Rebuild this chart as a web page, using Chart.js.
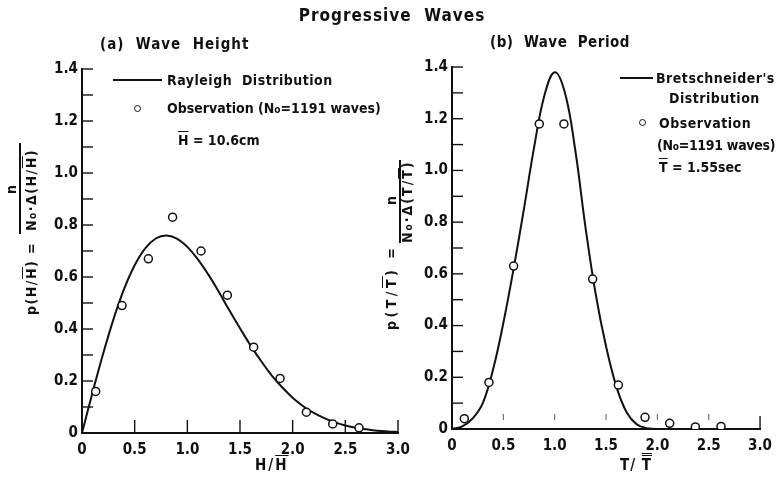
<!DOCTYPE html>
<html>
<head>
<meta charset="utf-8">
<script src="https://cdn.jsdelivr.net/npm/chart.js"></script>
<style>
  html, body { margin: 0; padding: 0; background: #fff; }
  #wrap { position: relative; width: 780px; height: 478px; overflow: hidden; font-family: 'DejaVu Sans Condensed', 'DejaVu Sans', sans-serif; font-weight: bold; color: #111; }
  canvas { position: absolute; left: 0; top: 0; }
  .t { position: absolute; white-space: pre; line-height: 1; letter-spacing: 0.5px; }
  .rot { transform-origin: 0 0; transform: rotate(-90deg); font-size: 14px; letter-spacing: 1.5px; }
  .ov { text-decoration: overline; }
  .ov2 { text-decoration: overline double; }
  .sm { font-size: 0.72em; }
  .rule { position: absolute; background: #111; }
  .dot { position: absolute; width: 5px; height: 5px; border: 1.3px solid #111; border-radius: 50%; }
</style>
</head>
<body>
<div id="wrap">
  <canvas id="heightChart" width="780" height="478"></canvas>
  <canvas id="periodChart" width="780" height="478"></canvas>

  <div class="t" style="left:2px; width:780px; text-align:center; top:7px; font-size:17px; letter-spacing:1px;">Progressive  Waves</div>
  <div class="t" style="left:100px; top:37px; font-size:15px; letter-spacing:1px;">(a)  Wave  Height</div>
  <div class="t" style="left:490px; top:35px; font-size:15px;">(b)  Wave  Period</div>

  <!-- legend (a) -->
  <div class="rule" style="left:113px; top:79px; width:49px; height:2px;"></div>
  <div class="t" style="left:167px; top:73px; font-size:14px;">Rayleigh  Distribution</div>
  <div class="dot" style="left:134px; top:105px;"></div>
  <div class="t" style="left:167px; top:101px; font-size:14px; letter-spacing:0;">Observation (N<span class="sm">o</span>=1191 waves)</div>
  <div class="t" style="left:178px; top:133px; font-size:14px; letter-spacing:0;"><span class="ov">H</span> = 10.6cm</div>

  <!-- legend (b) -->
  <div class="rule" style="left:620px; top:77px; width:33px; height:2px;"></div>
  <div class="t" style="left:656px; top:71px; font-size:14px;">Bretschneider's</div>
  <div class="t" style="left:669px; top:91px; font-size:14px;">Distribution</div>
  <div class="dot" style="left:639px; top:119px;"></div>
  <div class="t" style="left:659px; top:116px; font-size:14px;">Observation</div>
  <div class="t" style="left:657px; top:138px; font-size:14px; letter-spacing:-0.3px;">(N<span class="sm">o</span>=1191 waves)</div>
  <div class="t" style="left:659px; top:160px; font-size:14px; letter-spacing:0;"><span class="ov">T</span> = 1.55sec</div>

  <!-- axis titles -->
  <div class="t" style="left:255px; top:458px; font-size:15px; letter-spacing:2px;">H/<span class="ov">H</span></div>
  <div class="t" style="left:620px; top:458px; font-size:15px; letter-spacing:1px;">T/ <span class="ov2">T</span></div>

  <div class="t rot" style="left:24px; top:315px;">p(H/<span class="ov">H</span>) =</div>
  <div class="t rot" style="left:4px; top:194px;">n</div>
  <div class="rule" style="left:19px; top:143px; width:1.5px; height:91px;"></div>
  <div class="t rot" style="left:24px; top:231px;">N<span class="sm">o</span>·Δ(H/<span class="ov">H</span>)</div>

  <div class="t rot" style="left:384px; top:330px; letter-spacing:3.5px;">p(T/<span class="ov">T</span>) =</div>
  <div class="t rot" style="left:384px; top:205px;">n</div>
  <div class="rule" style="left:399px; top:160px; width:1.5px; height:83px;"></div>
  <div class="t rot" style="left:400px; top:243px; letter-spacing:2px;">N<span class="sm">o</span>·Δ(T/<span class="ov">T</span>)</div>
</div>

<script>
// (a) wave height, H / mean H
const heightCurveX = [0, 0.1, 0.2, 0.3, 0.4, 0.5, 0.6, 0.7, 0.8, 0.9, 1.0, 1.1, 1.2, 1.3, 1.4, 1.5,
                      1.6, 1.7, 1.8, 1.9, 2.0, 2.1, 2.2, 2.3, 2.4, 2.5, 2.6, 2.7, 2.8, 2.9, 3.0]
const heightCurveY = [0, 0.156, 0.304, 0.439, 0.554, 0.645, 0.710, 0.748, 0.760, 0.748, 0.716, 0.668, 0.609, 0.542, 0.471, 0.403,
                      0.337, 0.277, 0.222, 0.176, 0.136, 0.103, 0.077, 0.057, 0.041, 0.029, 0.020, 0.014, 0.009, 0.006, 0.004]
const heightObsX = [0.13, 0.38, 0.63, 0.86, 1.13, 1.38, 1.63, 1.88, 2.13, 2.38, 2.63]
const heightObsY = [0.16, 0.49, 0.67, 0.83, 0.70, 0.53, 0.33, 0.21, 0.08, 0.035, 0.02]

// (b) wave period, T / mean T
const periodCurveX = [0, 0.1, 0.2, 0.3, 0.4, 0.5, 0.6, 0.7, 0.8, 0.9, 1.0, 1.1, 1.2, 1.3, 1.4, 1.5,
                      1.6, 1.7, 1.8, 1.9, 2.0, 2.5, 3.0]
const periodCurveY = [0, 0.01, 0.04, 0.10, 0.23, 0.41, 0.62, 0.85, 1.09, 1.29, 1.38, 1.30, 1.08, 0.78, 0.52, 0.32,
                      0.165, 0.065, 0.018, 0.003, 0, 0, 0]
const periodObsX = [0.12, 0.36, 0.60, 0.85, 1.09, 1.37, 1.62, 1.88, 2.12, 2.37, 2.62]
const periodObsY = [0.04, 0.18, 0.63, 1.18, 1.18, 0.58, 0.17, 0.045, 0.022, 0.008, 0.01]

// axes
const xTicks = [0, 0.5, 1.0, 1.5, 2.0, 2.5, 3.0]
const xTickLabels = ['0', '0.5', '1.0', '1.5', '2.0', '2.5', '3.0']
const yTicks = [0, 0.2, 0.4, 0.6, 0.8, 1.0, 1.2, 1.4]
const yTickLabels = ['0', '0.2', '0.4', '0.6', '0.8', '1.0', '1.2', '1.4']

const INK = '#111'
const tickFont = { family: "'DejaVu Sans Condensed', 'DejaVu Sans', sans-serif", size: 15, weight: 'bold' }

const points = (xs, ys) => xs.map((x, i) => ({ x, y: ys[i] }))

// ticks in the original point into the plot, so draw them ourselves
function inwardTicks (faintX) {
    return {
        id: 'inwardTicks',
        afterDraw (chart) {
            const { ctx, scales: { x, y } } = chart
            ctx.save()
            ctx.strokeStyle = INK
            ctx.lineWidth = 1.4
            for (let i = 1; i < yTicks.length; i++) {
                for (const v of [ (yTicks[i - 1] + yTicks[i]) / 2, yTicks[i] ]) {
                    const py = y.getPixelForValue(v)
                    ctx.beginPath()
                    ctx.moveTo(x.left, py)
                    ctx.lineTo(x.left + 11, py)
                    ctx.stroke()
                }
            }
            for (const v of xTicks.slice(1)) {
                const px = x.getPixelForValue(v)
                const last = v === xTicks[xTicks.length - 1]
                ctx.beginPath()
                if (faintX && !last) {
                    ctx.lineWidth = 1
                    ctx.strokeStyle = '#555'
                    ctx.moveTo(px, y.bottom - 15)
                    ctx.lineTo(px, y.bottom - 9)
                } else {
                    ctx.lineWidth = 1.4
                    ctx.strokeStyle = INK
                    ctx.moveTo(px, y.bottom - 13)
                    ctx.lineTo(px, y.bottom)
                }
                ctx.stroke()
            }
            ctx.restore()
        },
    }
}

function makeChart (id, curveX, curveY, obsX, obsY, padding, faintX) {
    return new Chart(document.getElementById(id), {
        type: 'scatter',
        data: {
            datasets: [
                {
                    type: 'line',
                    data: points(curveX, curveY),
                    borderColor: INK,
                    borderWidth: 2,
                    pointRadius: 0,
                    tension: 0.4,
                    fill: false,
                    order: 1,
                },
                {
                    data: points(obsX, obsY),
                    pointRadius: 4,
                    pointBorderWidth: 1.5,
                    pointBorderColor: INK,
                    pointBackgroundColor: '#fff',
                    showLine: false,
                    order: 0,
                },
            ],
        },
        options: {
            responsive: false,
            animation: false,
            layout: { padding },
            plugins: { legend: { display: false }, tooltip: { enabled: false } },
            scales: {
                x: {
                    type: 'linear',
                    min: 0,
                    max: 3,
                    grid: { display: false, drawTicks: false },
                    border: { color: INK, width: 2 },
                    ticks: {
                        color: INK,
                        font: tickFont,
                        padding: 8,
                        maxRotation: 0,
                        autoSkip: false,
                        callback: (v) => xTickLabels[xTicks.indexOf(v)],
                    },
                    afterBuildTicks: (s) => { s.ticks = xTicks.map((value) => ({ value })) },
                    afterFit: (s) => { s.height = 40 },
                },
                y: {
                    min: 0,
                    max: 1.4,
                    grid: { display: false, drawTicks: false },
                    border: { color: INK, width: 2 },
                    ticks: {
                        color: INK,
                        font: tickFont,
                        padding: 4,
                        autoSkip: false,
                        callback: (v) => yTickLabels[yTicks.indexOf(v)],
                    },
                    afterBuildTicks: (s) => { s.ticks = yTicks.map((value) => ({ value })) },
                    afterFit: (s) => { s.width = 40 },
                },
            },
        },
        plugins: [ inwardTicks(faintX) ],
    })
}

makeChart('heightChart', heightCurveX, heightCurveY, heightObsX, heightObsY,
    { left: 42, top: 69, right: 382, bottom: 5 }, false)
makeChart('periodChart', periodCurveX, periodCurveY, periodObsX, periodObsY,
    { left: 412, top: 67, right: 15, bottom: 9 }, true)
</script>
</body>
</html>
